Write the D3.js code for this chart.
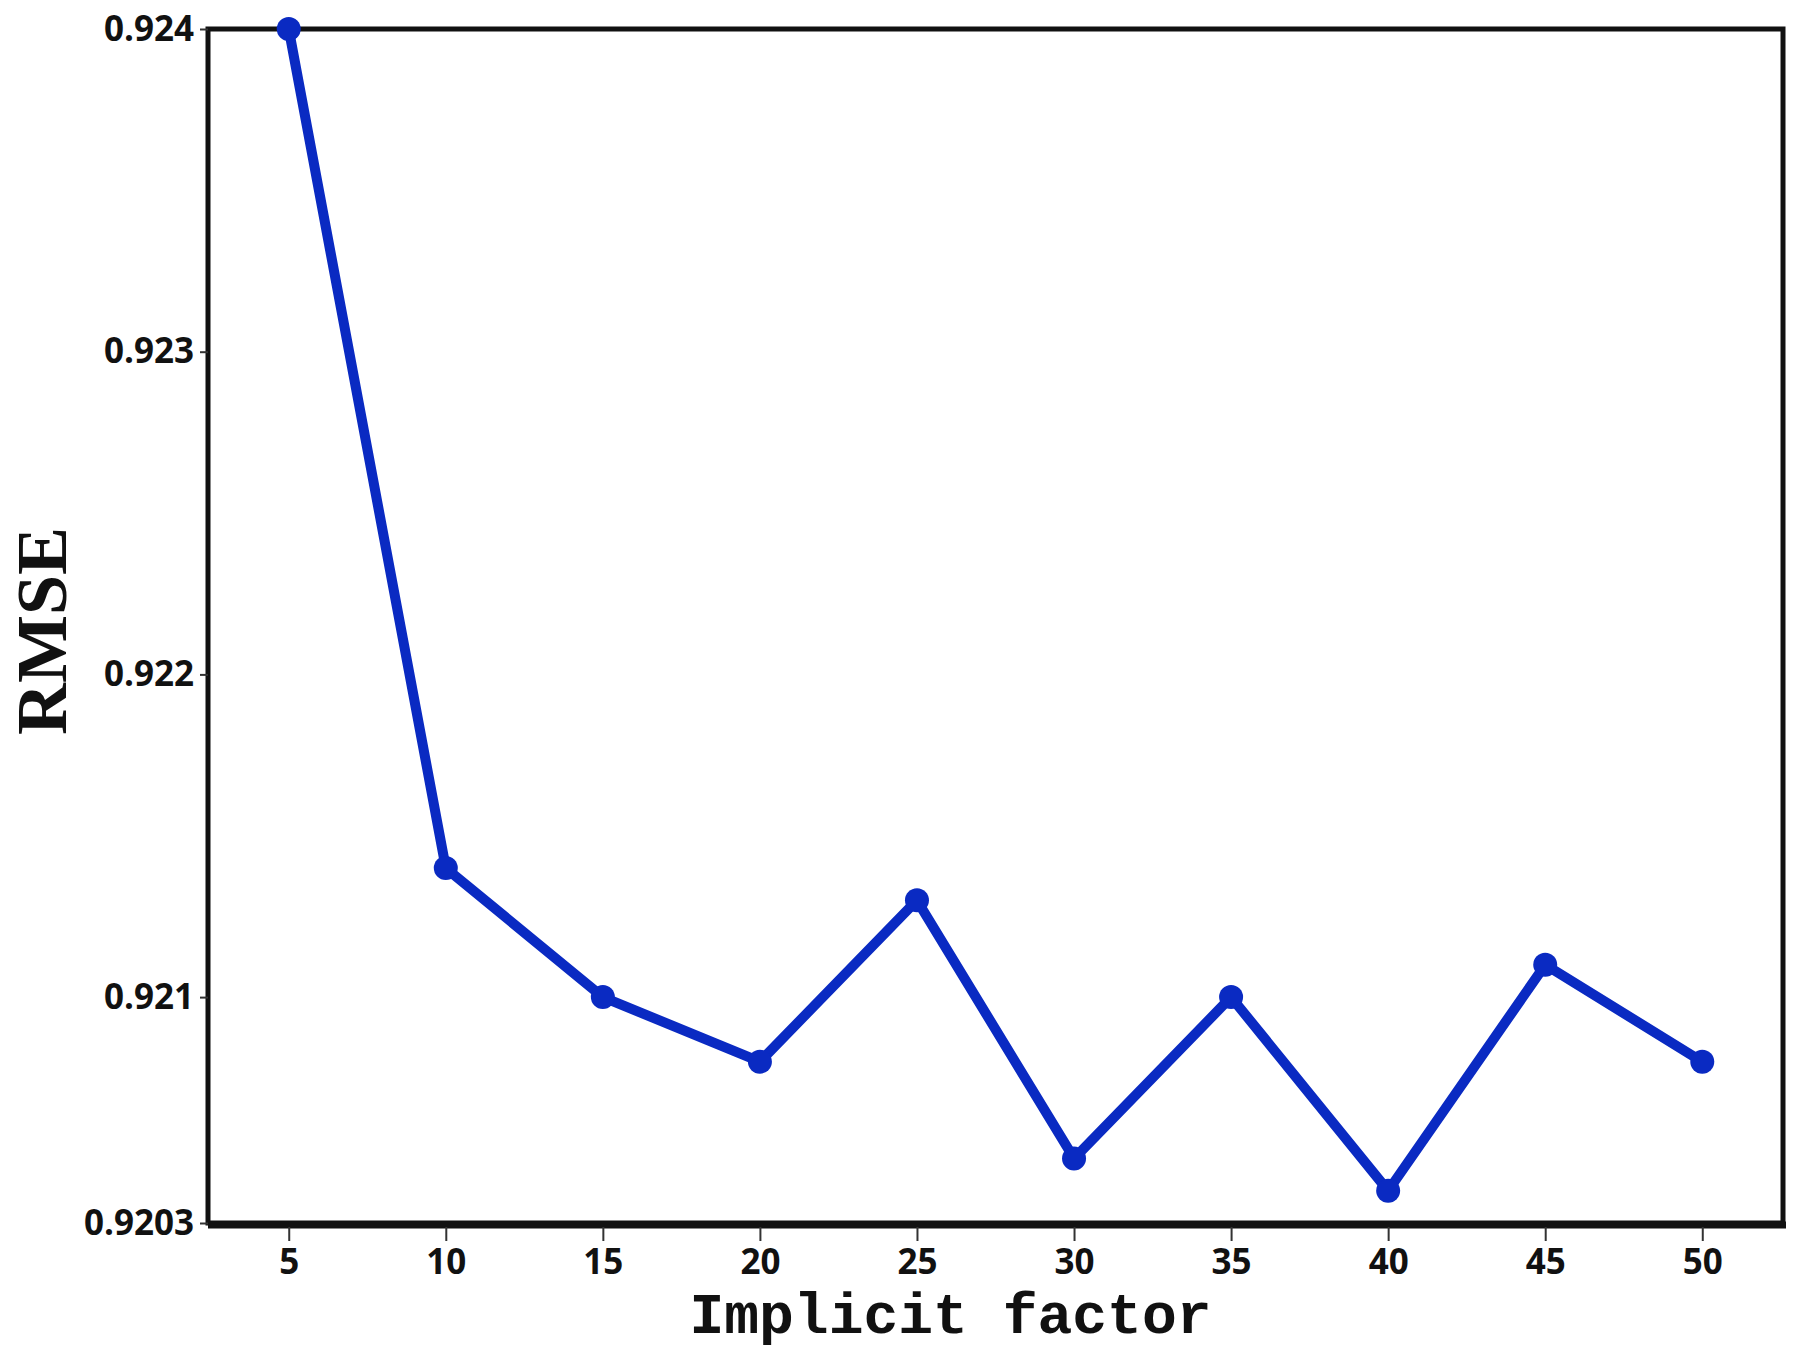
<!DOCTYPE html>
<html><head><meta charset="utf-8">
<script src="https://cdn.jsdelivr.net/npm/d3@7"></script>
<style>body{margin:0;background:#fff}</style></head>
<body><svg id="c" width="1800" height="1368"></svg>
<script>
const factors = [5,10,15,20,25,30,35,40,45,50];
const rmse = [0.9240,0.9214,0.9210,0.9208,0.9213,0.9205,0.9210,0.9204,0.9211,0.9208];
const yTicks = [0.9203,0.921,0.922,0.923,0.924];
const yTickLabels = ["0.9203","0.921","0.922","0.923","0.924"];

const svg = d3.select("#c");
const L=208,R=1783,T=29,B=1223;
const x = d3.scaleLinear().domain([2.43,52.57]).range([L,R]);
const y = d3.scaleLinear().domain([0.9203,0.924]).range([B,T]);

svg.append("rect").attr("x",L).attr("y",T).attr("width",R-L).attr("height",B-T)
  .attr("fill","none").attr("stroke","#111").attr("stroke-width",5);
svg.append("line").attr("x1",L).attr("x2",R+3).attr("y1",B+2).attr("y2",B+2).attr("stroke","#111").attr("stroke-width",7);

const xa = svg.append("g").attr("transform",`translate(0,${B+4})`)
  .call(d3.axisBottom(x).tickValues(factors).tickSize(14).tickPadding(8).tickFormat(d3.format("d")));
const ya = svg.append("g").attr("transform",`translate(${L},0)`)
  .call(d3.axisLeft(y).tickValues(yTicks).tickSize(8).tickPadding(6).tickFormat((d,i)=>yTickLabels[i]));
[xa,ya].forEach(a=>{
  a.select(".domain").remove();
  a.selectAll("line").attr("stroke","#333").attr("stroke-width",2);
  a.selectAll("text").attr("font-family","'Open Sans',sans-serif").attr("font-weight","bold")
    .attr("font-size",35).attr("fill","#111");
});

svg.append("path").datum(factors.map((f,i)=>[f,rmse[i]]))
  .attr("d",d3.line().x(d=>x(d[0])).y(d=>y(d[1])))
  .attr("fill","none").attr("stroke","#0a2ac2").attr("stroke-width",10).attr("stroke-linejoin","round");
svg.selectAll("circle.p").data(factors).join("circle")
  .attr("cx",d=>x(d)).attr("cy",(d,i)=>y(rmse[i])).attr("r",12).attr("fill","#0a2ac2");

svg.append("text").attr("x",(L+R)/2-45).attr("y",1333).attr("text-anchor","middle")
  .attr("font-family","'Liberation Mono',monospace").attr("font-weight","bold").attr("font-size",58).attr("fill","#111")
  .text("Implicit factor");
svg.append("text").attr("transform",`translate(66,${(T+B)/2+5}) rotate(-90)`).attr("text-anchor","middle")
  .attr("font-family","'Liberation Serif',serif").attr("font-weight","bold").attr("font-size",72).attr("fill","#111")
  .text("RMSE");
</script></body></html>
